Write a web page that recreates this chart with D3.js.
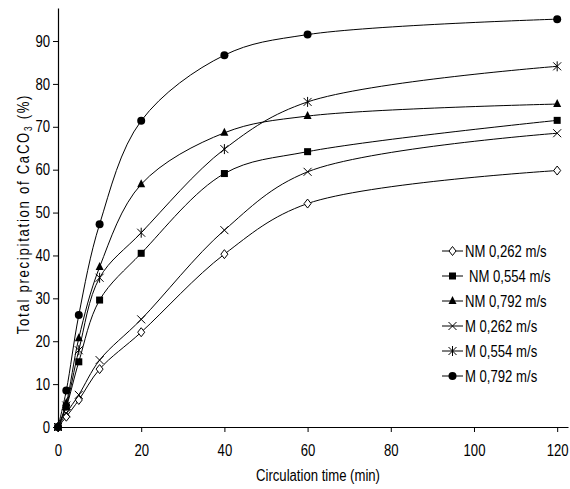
<!DOCTYPE html>
<html>
<head>
<meta charset="utf-8">
<script src="https://cdn.jsdelivr.net/npm/d3@7"></script>
<style>
  body { margin: 0; background: #fff; }
  svg text { font-family: "Liberation Sans Narrow", "Arial Narrow", "Liberation Sans", sans-serif; font-size: 16px; fill: #000; }
</style>
</head>
<body>
<div id="canvas"></div>
<script>
var width = 570;
var height = 489;

// circulation time (min)
var times = [0, 2, 5, 10, 20, 40, 60, 120];

var seriesNames = ["NM 0,262 m/s", "NM 0,554 m/s", "NM 0,792 m/s", "M 0,262 m/s", "M 0,554 m/s", "M 0,792 m/s"];
var seriesSymbols = ["diamond", "square", "triangle", "cross", "asterisk", "circle"];

var nm262 = [0, 2.4, 6.3, 13.5, 22.1, 40.3, 52.1, 59.8];
var nm554 = [0, 4.7, 15.2, 29.6, 40.5, 59.1, 64.2, 71.5];
var nm792 = [0, 5.6, 20.7, 37.3, 56.6, 68.6, 72.5, 75.3];
var m262 = [0, 3.2, 7.5, 15.6, 25.1, 45.9, 59.5, 68.5];
var m554 = [0, 5.0, 17.9, 34.8, 45.3, 64.8, 75.8, 84.1];
var m792 = [0, 8.5, 26.1, 47.3, 71.4, 86.7, 91.5, 95.1];

var seriesValues = [nm262, nm554, nm792, m262, m554, m792];

var xTicks = [0, 20, 40, 60, 80, 100, 120];
var yTicks = [0, 10, 20, 30, 40, 50, 60, 70, 80, 90];

var svgContainer = d3.select("#canvas").append("svg")
    .attr("width", width)
    .attr("height", height);

var x = d3.scaleLinear().domain([0, 122.6]).range([58, 568]);
var y = d3.scaleLinear().domain([0, 97.7]).range([427, 8]);

// squeeze text to look like a narrow font (no narrow face installed)
function narrow(sel){
  sel.each(function(){
    var w = this.getComputedTextLength();
    d3.select(this).attr("textLength", w * 0.82).attr("lengthAdjust", "spacingAndGlyphs");
  });
}

// axes
var xAxis = d3.axisBottom(x).tickValues(xTicks).tickSize(5).tickPadding(13).tickSizeOuter(0);
var yAxis = d3.axisLeft(y).tickValues(yTicks).tickSize(5).tickPadding(3).tickSizeOuter(0);

var gx = svgContainer.append("g").attr("transform", "translate(0," + y(0) + ")").call(xAxis);
var gy = svgContainer.append("g").attr("transform", "translate(" + x(0) + ",0)").call(yAxis);
[gx, gy].forEach(function(g){
  g.attr("font-size", null).attr("font-family", null);
  g.select(".domain").attr("stroke", "#000").attr("stroke-width", 1.2);
  g.selectAll(".tick line").attr("stroke", "#000");
  narrow(g.selectAll("text"));
});

// axis titles
svgContainer.append("text")
    .attr("x", 318).attr("y", 481)
    .attr("text-anchor", "middle")
    .text("Circulation time (min)")
    .call(narrow);

var yl = svgContainer.append("text")
    .attr("transform", "translate(29,214) rotate(-90) scale(0.82,1)")
    .attr("text-anchor", "middle")
    .style("letter-spacing", "2.1px");
yl.append("tspan").text("Total precipitation of CaCO");
yl.append("tspan").attr("font-size", "10px").attr("dy", 3).text("3");
yl.append("tspan").attr("dy", -3).text(" (%)");

// symbols
function drawSymbol(g, type, cx, cy) {
  if (type == "circle") {
    g.append("circle").attr("cx", cx).attr("cy", cy).attr("r", 4).attr("fill", "#000");
  } else if (type == "square") {
    g.append("rect").attr("x", cx - 3.5).attr("y", cy - 3.5).attr("width", 7).attr("height", 7).attr("fill", "#000");
  } else if (type == "triangle") {
    g.append("path").attr("d", "M" + cx + "," + (cy - 5) + "L" + (cx + 4) + "," + (cy + 3) + "L" + (cx - 4) + "," + (cy + 3) + "Z").attr("fill", "#000");
  } else if (type == "diamond") {
    g.append("path").attr("d", "M" + cx + "," + (cy - 4.5) + "L" + (cx + 3.5) + "," + cy + "L" + cx + "," + (cy + 4.5) + "L" + (cx - 3.5) + "," + cy + "Z")
      .attr("fill", "#fff").attr("stroke", "#000").attr("stroke-width", 1);
  } else if (type == "cross") {
    g.append("path").attr("d", "M" + (cx - 4) + "," + (cy - 4) + "L" + (cx + 4) + "," + (cy + 4) + "M" + (cx + 4) + "," + (cy - 4) + "L" + (cx - 4) + "," + (cy + 4))
      .attr("stroke", "#000").attr("stroke-width", 1).attr("fill", "none");
  } else if (type == "asterisk") {
    g.append("path").attr("d", "M" + (cx - 4) + "," + (cy - 4) + "L" + (cx + 4) + "," + (cy + 4) + "M" + (cx + 4) + "," + (cy - 4) + "L" + (cx - 4) + "," + (cy + 4) + "M" + cx + "," + (cy - 5) + "L" + cx + "," + (cy + 5))
      .attr("stroke", "#000").attr("stroke-width", 1).attr("fill", "none");
  }
}

var line = d3.line()
    .x(function(d){ return x(d[0]); })
    .y(function(d){ return y(d[1]); })
    .curve(d3.curveCatmullRom.alpha(0.5));

seriesValues.forEach(function(vals, i){
  var pts = times.map(function(t, j){ return [t, vals[j]]; });
  svgContainer.append("path")
      .attr("d", line(pts))
      .attr("fill", "none")
      .attr("stroke", "#000")
      .attr("stroke-width", 1);
});

seriesValues.forEach(function(vals, i){
  var g = svgContainer.append("g");
  times.forEach(function(t, j){
    drawSymbol(g, seriesSymbols[i], x(t), y(vals[j]));
  });
});

// legend
var legend = svgContainer.append("g");
seriesNames.forEach(function(name, i){
  var ly = 251 + i * 25;
  legend.append("line").attr("x1", 442).attr("x2", 463).attr("y1", ly).attr("y2", ly).attr("stroke", "#000");
  drawSymbol(legend, seriesSymbols[i], 452.5, ly);
  legend.append("text").attr("x", i == 1 ? 469 : 465).attr("y", ly).attr("dy", "0.35em")
      .text(name)
      .call(narrow);
});
</script>
</body>
</html>
